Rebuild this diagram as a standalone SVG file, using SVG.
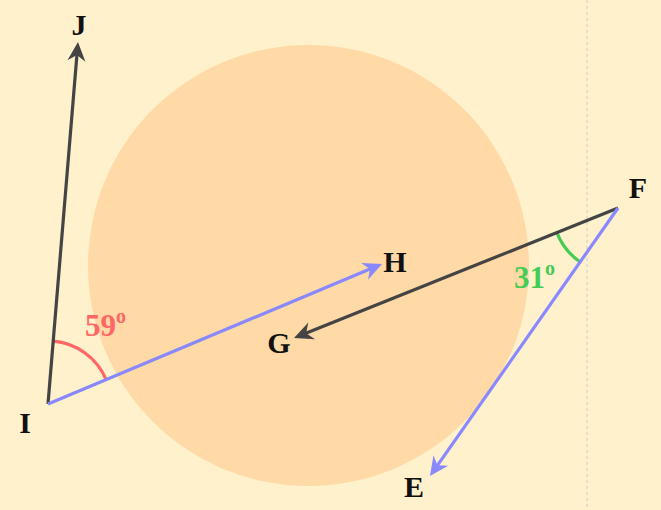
<svg xmlns="http://www.w3.org/2000/svg" width="661" height="510" viewBox="0 0 661 510">
<style>
.lbl{font-family:"Liberation Serif",serif;font-weight:bold;font-size:30px;fill:#111;text-anchor:middle}
.ang{font-family:"Liberation Serif",serif;font-weight:bold;font-size:31px}
.sup{font-size:20px}
.ln{stroke-width:3.2;fill:none}
</style>
<defs>
<marker id="ad" markerUnits="userSpaceOnUse" markerWidth="30" markerHeight="30" viewBox="-15 -15 30 30" refX="0" refY="0" orient="auto">
<path d="M6,0 L-13,-9 L-7,0 L-13,9 z" fill="#444"/>
</marker>
<marker id="ab" markerUnits="userSpaceOnUse" markerWidth="30" markerHeight="30" viewBox="-15 -15 30 30" refX="0" refY="0" orient="auto">
<path d="M6,0 L-13,-9 L-7,0 L-13,9 z" fill="#8888ff"/>
</marker>
</defs>
<rect width="661" height="510" fill="#fff1cc"/>
<line x1="587" y1="0" x2="587" y2="510" stroke="#cccccc" stroke-width="1" stroke-dasharray="3,3"/>
<circle cx="308.5" cy="265.5" r="220.5" fill="#ffd9a6"/>
<g id="angles">
<path d="M53.2,341.2 A63,63 0 0 1 106.1,379.6" class="ln" stroke="#ff6666"/>
<path d="M556.8,232.6 A66,66 0 0 0 580.1,262" class="ln" stroke="#44cc55"/>
</g>
<g id="connectors">
<line x1="48" y1="404" x2="77.5" y2="48" class="ln" stroke="#444" marker-end="url(#ad)"/>
<line x1="48" y1="404" x2="376.5" y2="266.3" class="ln" stroke="#8888ff" marker-end="url(#ab)"/>
<line x1="618" y1="208" x2="299.6" y2="335.8" class="ln" stroke="#444" marker-end="url(#ad)"/>
<line x1="618" y1="208" x2="433.4" y2="471.1" class="ln" stroke="#8888ff" marker-end="url(#ab)"/>
</g>
<g id="node-J"><text class="lbl" x="79" y="35">J</text></g>
<g id="node-I"><text class="lbl" x="25" y="433">I</text></g>
<g id="node-H"><text class="lbl" x="395" y="272">H</text></g>
<g id="node-G"><text class="lbl" x="279" y="353">G</text></g>
<g id="node-F"><text class="lbl" x="638" y="198">F</text></g>
<g id="node-E"><text class="lbl" x="414" y="497">E</text></g>
<g id="label-59"><text class="ang" x="85" y="336" fill="#ff6666">59<tspan class="sup" dy="-13">o</tspan></text></g>
<g id="label-31"><text class="ang" x="514" y="288" fill="#44cc55">31<tspan class="sup" dy="-13">o</tspan></text></g>
</svg>
